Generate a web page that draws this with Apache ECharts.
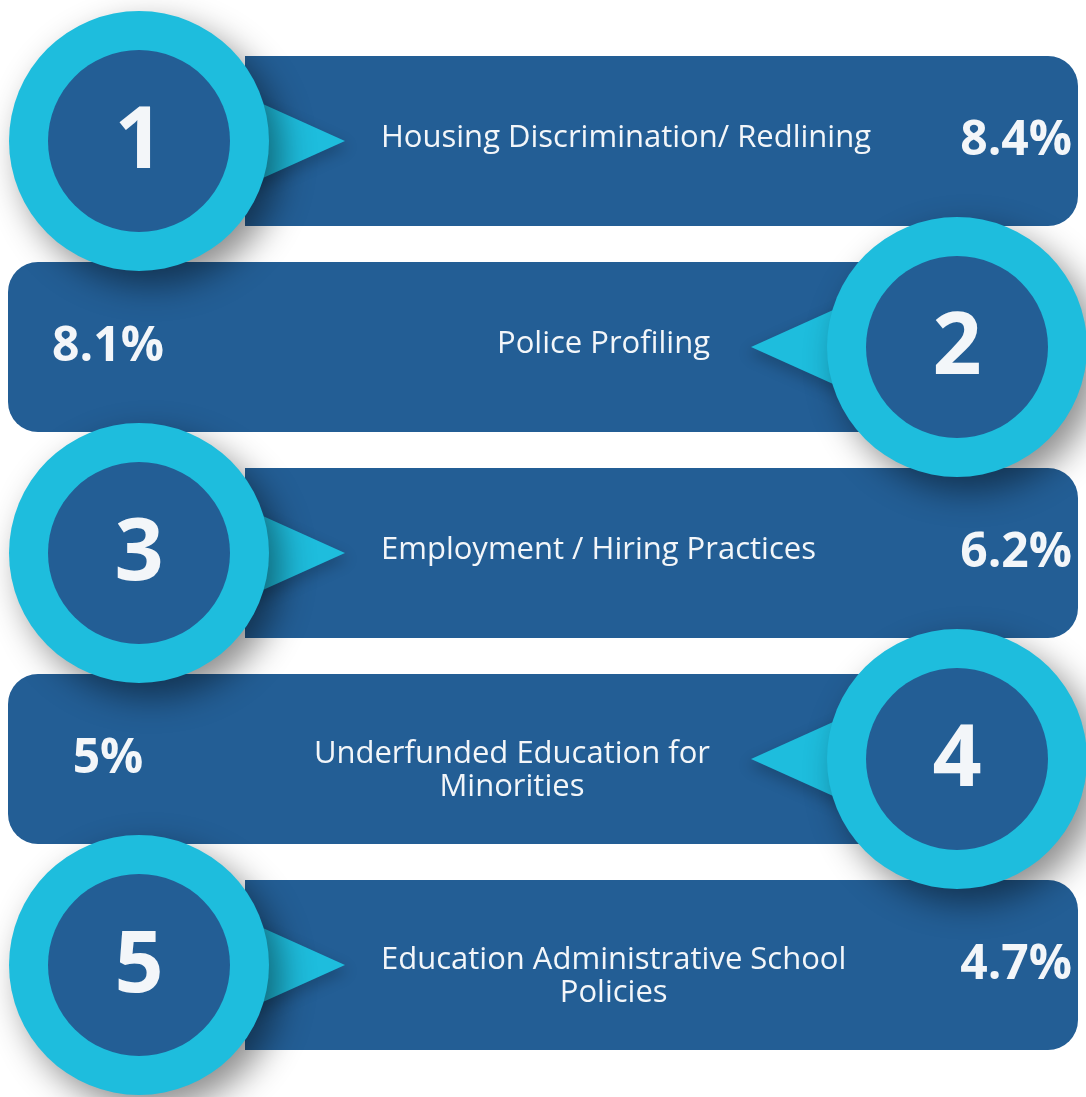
<!DOCTYPE html>
<html>
<head>
<meta charset="utf-8">
<script src="https://cdn.jsdelivr.net/npm/echarts@6/dist/echarts.min.js"></script>
<style>
  html, body { margin: 0; background: #fff; }
  #chart { width: 1086px; height: 1097px; }
</style>
</head>
<body>
<div id="chart"></div>
<script>
// ranking data
const ranks = ['1', '2', '3', '4', '5']
const causes = [
  'Housing Discrimination/ Redlining',
  'Police Profiling',
  'Employment / Hiring Practices',
  'Underfunded Education for\nMinorities',
  'Education Administrative School\nPolicies'
]
const shares = [8.4, 8.1, 6.2, 5, 4.7]

const navy = '#235e95'
const cyan = '#1ebddd'
const ink = '#f3f6f9'
const labelFont = '31px "Open Sans"'

// measure text so multi-line labels stay centred within their block
const ctx = document.createElement('canvas').getContext('2d')
function textWidth (s) {
  ctx.font = labelFont
  return ctx.measureText(s).width
}

function renderBar (params, api) {
  const i = api.value(1)
  const cy = api.coord([0, i])[1]
  const left = i % 2 === 0 // badge sits on the left for rows 1,3,5
  const x0 = api.coord([left ? 245 : 8, i])[0]
  const x1 = api.coord([left ? 1078 : 900, i])[0]
  const h = 170
  const lines = causes[i].split('\n')
  const w = Math.max(...lines.map(textWidth))
  const tx = left ? 381 + w / 2 : 710 - w / 2
  return {
    type: 'group',
    children: [
      {
        type: 'rect',
        shape: { x: x0, y: cy - h / 2, width: x1 - x0, height: h, r: left ? [0, 30, 30, 0] : [30, 0, 0, 30] },
        style: { fill: navy }
      },
      {
        type: 'text',
        x: tx,
        y: cy + (lines.length > 1 ? 12 : -3),
        style: { text: causes[i], font: labelFont, fill: ink, textAlign: 'center', textVerticalAlign: 'middle', lineHeight: 33 }
      },
      {
        type: 'text',
        x: left ? 1072 : 108,
        y: cy,
        style: { text: shares[i] + '%', font: 'bold 48px "Open Sans"', fill: ink, textAlign: left ? 'right' : 'center', textVerticalAlign: 'middle' }
      }
    ]
  }
}

function renderBadge (params, api) {
  const i = api.value(1)
  const cy = api.coord([0, i])[1]
  const left = i % 2 === 0
  const cx = api.coord([left ? 139 : 957, i])[0]
  const dir = left ? 1 : -1
  return {
    type: 'group',
    children: [
      {
        type: 'polygon',
        shape: { points: [[cx + dir * 95, cy - 50], [cx + dir * 206, cy], [cx + dir * 95, cy + 50]] },
        style: { fill: cyan, shadowBlur: 14, shadowColor: 'rgba(0,0,0,0.2)', shadowOffsetX: dir * 4, shadowOffsetY: 6 }
      },
      {
        type: 'circle',
        shape: { cx: cx, cy: cy, r: 130 },
        style: { fill: cyan, shadowBlur: 34, shadowColor: 'rgba(0,0,0,0.45)', shadowOffsetX: 12, shadowOffsetY: 14 }
      },
      {
        type: 'circle',
        shape: { cx: cx, cy: cy, r: 91 },
        style: { fill: navy }
      },
      {
        type: 'text',
        x: cx,
        y: cy + 2,
        style: { text: ranks[i], font: 'bold 86px "Open Sans"', fill: ink, textAlign: 'center', textVerticalAlign: 'middle' }
      }
    ]
  }
}

const chart = echarts.init(document.getElementById('chart'))
const rows = ranks.map((r, i) => [0, i])
chart.setOption({
  animation: false,
  grid: { left: 0, right: 0, top: 38, bottom: 29 },
  xAxis: { type: 'value', min: 0, max: 1086, show: false },
  yAxis: { type: 'category', data: ranks, inverse: true, show: false },
  series: [
    { type: 'custom', renderItem: renderBar, data: rows, z: 1 },
    { type: 'custom', renderItem: renderBadge, data: rows, z: 2 }
  ]
})
</script>
</body>
</html>
